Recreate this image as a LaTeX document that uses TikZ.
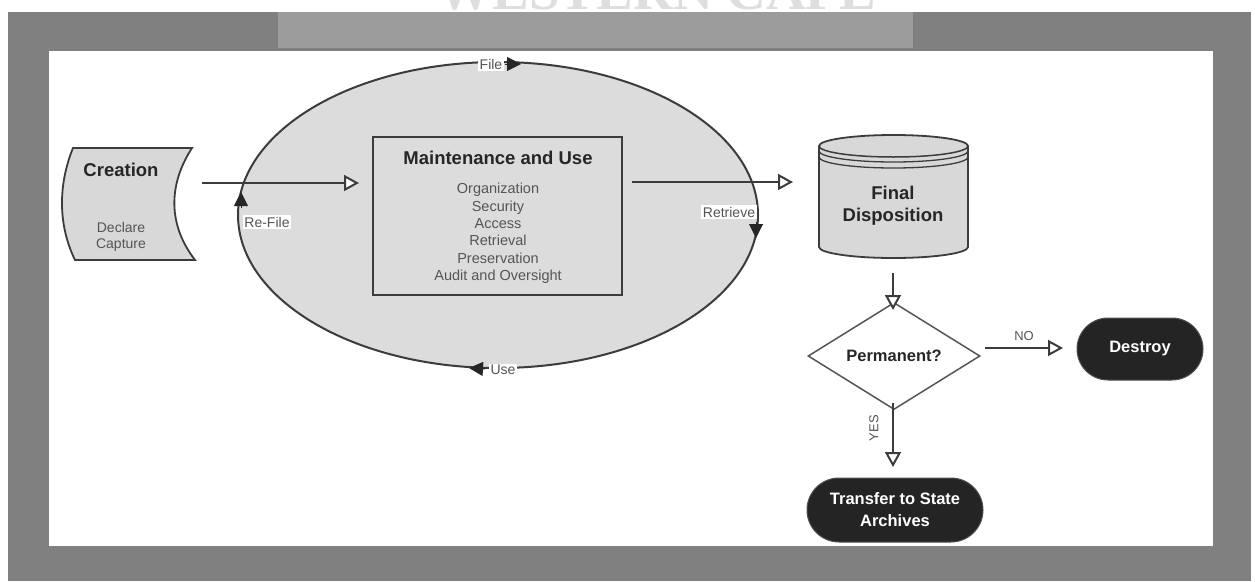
\documentclass[tikz,border=0pt]{standalone}
\usepackage{fontspec}
\setmainfont{Liberation Sans}
\newfontfamily\markfont{Liberation Serif}
\usetikzlibrary{arrows.meta,shapes.geometric}

\definecolor{framegray}{HTML}{808080}
\definecolor{bandgray}{HTML}{9C9C9C}
\definecolor{shapefill}{HTML}{D8D8D8}
\definecolor{ovalfill}{HTML}{DCDCDC}
\definecolor{edgegray}{HTML}{3C3C3C}
\definecolor{textgray}{HTML}{555555}
\definecolor{titlegray}{HTML}{262626}
\definecolor{darkpill}{HTML}{242424}

\tikzset{
  conn/.style={draw=edgegray, line width=2.2pt},
  openhead/.style={-{Triangle[open, length=15pt, width=16pt, line width=2pt, fill=white]}},
  flowhead/.style={-{Triangle[length=14pt, width=14pt]}, draw=titlegray, fill=titlegray, line width=1pt},
  looplabel/.style={fill=white, inner sep=1.5pt, text=textgray, font=\fontsize{14}{14}\selectfont},
  titletext/.style={text=titlegray, font=\bfseries\fontsize{18.5}{22}\selectfont, align=center},
  itemtext/.style={text=textgray, font=\fontsize{14.5}{17.4}\selectfont, align=center},
  pill/.style={fill=darkpill, draw=darkpill!80, line width=1pt, text=white, align=center,
               font=\bfseries\fontsize{16.5}{22}\selectfont},
  decision/.style={diamond, draw=textgray, fill=white, line width=1.5pt, inner sep=0pt,
               minimum width=172pt, minimum height=74pt, text=titlegray,
               font=\bfseries\fontsize{16.5}{20}\selectfont}
}

\begin{document}
\begin{tikzpicture}[x=1pt, y=-1pt]
  \useasboundingbox (0,0) rectangle (1255,581);

  % page frame
  \fill[white] (0,0) rectangle (1255,581);
  \begin{scope}
    \clip (0,0) rectangle (1255,12);
    \node[anchor=base, text=black!13, font=\markfont\bfseries\fontsize{55}{55}\selectfont]
      (mark) at (657,9) {WESTERN CAPE};
  \end{scope}
  \fill[framegray] (8,12) rectangle (1251,581);
  \fill[bandgray] (278,12) rectangle (913,48);
  \fill[white] (49,51) rectangle (1213,546);

  % records-use cycle
  \node[ellipse, draw=edgegray, fill=ovalfill, line width=2pt,
        minimum width=520pt, minimum height=306pt, inner sep=0pt] (oval) at (498,215) {};

  % creation
  \draw[draw=edgegray, fill=shapefill, line width=1.8pt]
    (73,148) -- (192,148) .. controls (168,185) and (168,225) .. (195,260)
    -- (75,260) .. controls (58,225) and (58,185) .. (73,148) -- cycle;
  \node[titletext] (creation) at (121,170) {Creation};
  \node[itemtext, font=\fontsize{14}{16}\selectfont] (crsub) at (121,237) {Declare\\Capture};
  \coordinate (crout) at (202,183);

  % maintenance and use
  \node[draw=edgegray, fill=ovalfill, line width=2.4pt,
        minimum width=249pt, minimum height=158pt, inner sep=0pt] (maint) at (497.5,216) {};
  \node[titletext] (mtitle) at (498,158) {Maintenance and Use};
  \node[itemtext] (mitems) at (498,233.5)
    {Organization\\Security\\Access\\Retrieval\\Preservation\\Audit and Oversight};
  \coordinate (min) at (359,183);

  % final disposition (cylinder)
  \draw[draw=edgegray, fill=shapefill, line width=1.8pt]
    (819,146) -- (819,247) arc[start angle=180, end angle=360, x radius=74.5, y radius=-11]
    -- (968,146) arc[start angle=0, end angle=180, x radius=74.5, y radius=-11] -- cycle;
  \draw[draw=edgegray, line width=1.5pt]
    (819,146) arc[start angle=180, end angle=360, x radius=74.5, y radius=-11];
  \draw[draw=edgegray, line width=1.3pt]
    (819,151) arc[start angle=180, end angle=360, x radius=74.5, y radius=-11];
  \draw[draw=edgegray, line width=1.3pt]
    (819,157) arc[start angle=180, end angle=360, x radius=74.5, y radius=-11];
  \node[minimum width=150pt, minimum height=123pt, inner sep=0pt]
    (final) at (893.5,196.5) {};
  \node[titletext] (finaltext) at (893,206) {Final\\Disposition};

  % decision and outcomes
  \node[decision] (perm) at (894,356) {Permanent?};
  \node[pill, minimum width=126pt, minimum height=62pt, rounded corners=31pt]
    (destroy) at (1140,349) {Destroy};
  \node[pill, minimum width=176pt, minimum height=64pt, rounded corners=32pt, inner sep=0pt]
    (archives) at (895,510) {Transfer to State\\Archives};

  % main flow
  \draw[conn, openhead] (crout) -- (min);
  \coordinate (mout) at (632,182);
  \coordinate (fin) at (793,182);
  \draw[conn, openhead] (mout) -- (fin);
  \coordinate (fdown) at (893,273);
  \coordinate (pin) at (893,310);
  \draw[conn, openhead] (fdown) -- (pin);
  \coordinate (pno) at (985,348);
  \coordinate (dno) at (1063,348);
  \draw[conn, openhead] (pno) -- (dno) node[midway, above=3pt, text=textgray,
    font=\fontsize{13}{13}\selectfont] (nolabel) {NO};
  \coordinate (pyes) at (893,403);
  \coordinate (ayes) at (893,467);
  \draw[conn, openhead] (pyes) -- (ayes);
  \node[rotate=90, text=textgray, font=\fontsize{13}{13}\selectfont] (yeslabel) at (874,428) {YES};

  % cycle labels and direction marks
  \node[looplabel] (filelbl) at (491,64) {File};
  \draw[flowhead] (505,64) -- (521,64);
  \node[looplabel] (uselbl) at (503,370) {Use};
  \draw[flowhead] (485,369) -- (469,368);
  \node[looplabel] (retlbl) at (729,212) {Retrieve};
  \draw[flowhead] (756,222) -- (756,238);
  \node[looplabel] (refilelbl) at (267,222) {Re-File};
  \draw[flowhead] (241,208) -- (241,192);
\end{tikzpicture}
\end{document}
